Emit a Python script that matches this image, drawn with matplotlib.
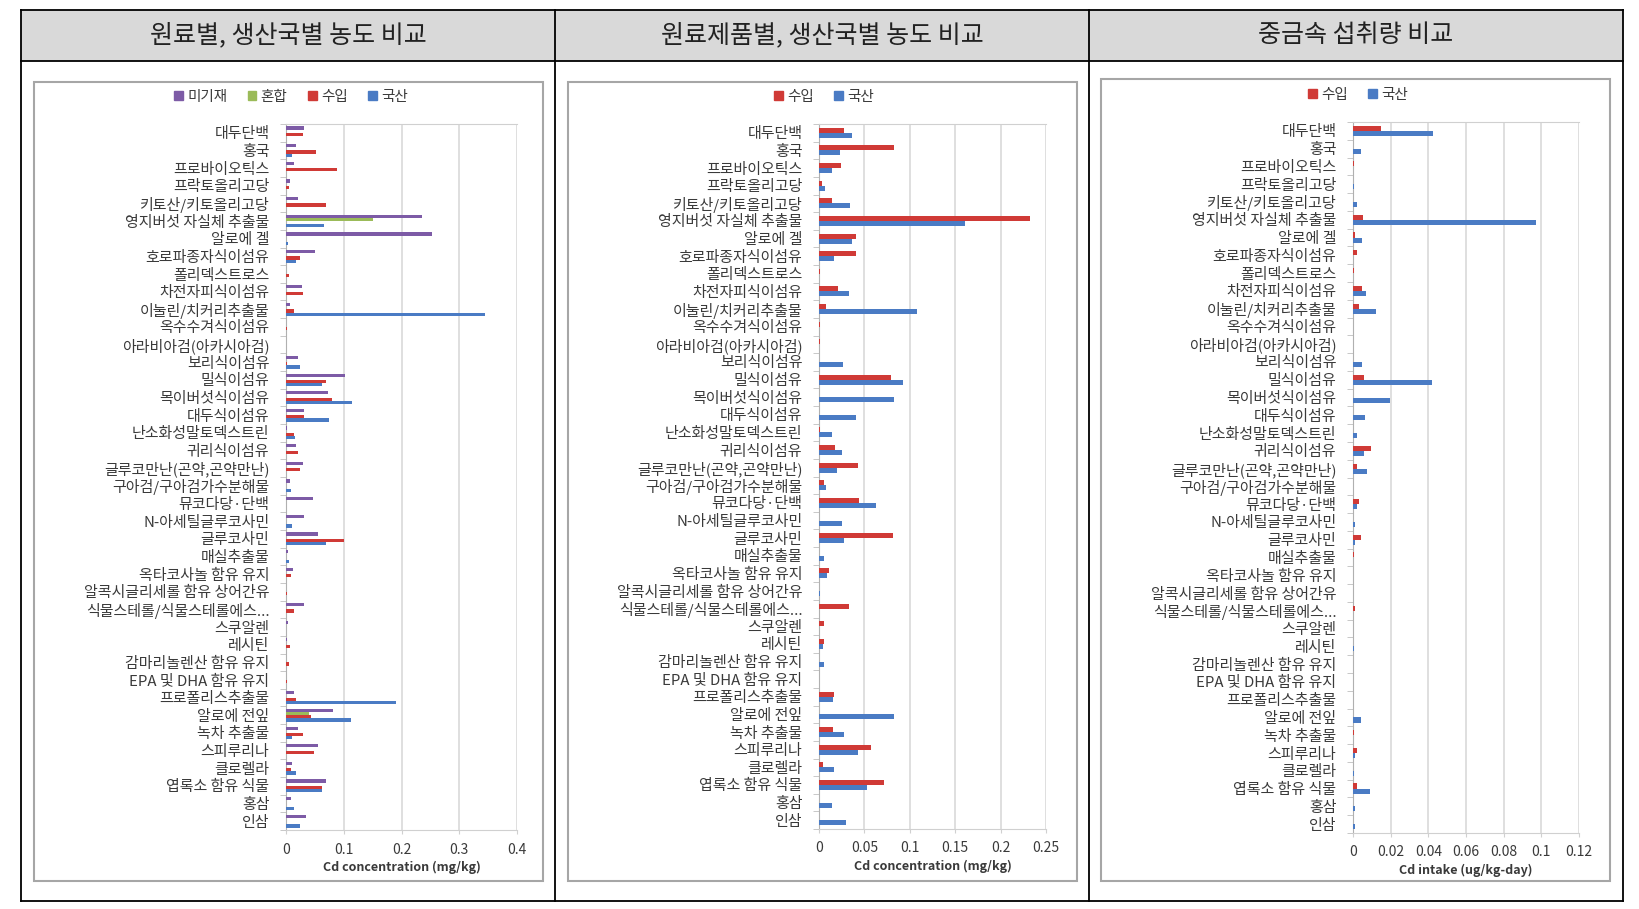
import numpy as np
import matplotlib
matplotlib.use("Agg")
import matplotlib.pyplot as plt
from matplotlib.patches import Rectangle, Patch
from matplotlib.lines import Line2D

plt.rcParams['font.family'] = ['Noto Sans CJK KR', 'DejaVu Sans']

categories = [
    "대두단백", "홍국", "프로바이오틱스", "프락토올리고당", "키토산/키토올리고당",
    "영지버섯 자실체 추출물", "알로에 겔", "호로파종자식이섬유", "폴리덱스트로스", "차전자피식이섬유",
    "이눌린/치커리추출물", "옥수수겨식이섬유", "아라비아검(아카시아검)", "보리식이섬유", "밀식이섬유",
    "목이버섯식이섬유", "대두식이섬유", "난소화성말토덱스트린", "귀리식이섬유", "글루코만난(곤약,곤약만난)",
    "구아검/구아검가수분해물", "뮤코다당·단백", "N-아세틸글루코사민", "글루코사민", "매실추출물",
    "옥타코사놀 함유 유지", "알콕시글리세롤 함유 상어간유", "식물스테롤/식물스테롤에스...", "스쿠알렌", "레시틴",
    "감마리놀렌산 함유 유지", "EPA 및 DHA 함유 유지", "프로폴리스추출물", "알로에 전잎", "녹차 추출물",
    "스피루리나", "클로렐라", "엽록소 함유 식물", "홍삼", "인삼",
]

titles = ["원료별, 생산국별 농도 비교", "원료제품별, 생산국별 농도 비교", "중금속 섭취량 비교"]

# panel 1: raw material Cd concentration (mg/kg)
raw_none = [0.031, 0.018, 0.014, 0.007, 0.021, 0.235, 0.252, 0.051, 0, 0.027,
            0.007, 0, 0, 0.021, 0.102, 0.073, 0.031, 0.002, 0.018, 0.030,
            0.007, 0.047, 0.032, 0.056, 0.003, 0.012, 0, 0.031, 0.003, 0.002,
            0, 0, 0.014, 0.081, 0.020, 0.055, 0.010, 0.069, 0.008, 0.035]
raw_mix = [0, 0, 0, 0, 0, 0.151, 0, 0, 0, 0,
           0, 0, 0, 0, 0, 0, 0, 0, 0, 0,
           0, 0, 0, 0, 0, 0, 0, 0, 0, 0,
           0, 0, 0, 0.040, 0, 0, 0, 0, 0, 0]
raw_imp = [0.029, 0.052, 0.088, 0.005, 0.069, 0, 0, 0.024, 0.005, 0.030,
           0.014, 0.001, 0, 0.002, 0.069, 0.079, 0.032, 0.014, 0.020, 0.025,
           0, 0, 0, 0.101, 0, 0.009, 0.001, 0.013, 0, 0.007,
           0.005, 0.001, 0.017, 0.044, 0.030, 0.049, 0.008, 0.062, 0, 0]
raw_dom = [0, 0.010, 0, 0, 0, 0.065, 0.003, 0.017, 0, 0,
           0.344, 0, 0, 0.025, 0.063, 0.114, 0.074, 0.016, 0, 0,
           0.008, 0, 0.010, 0.069, 0.006, 0, 0, 0, 0, 0,
           0, 0, 0.191, 0.112, 0.010, 0, 0.018, 0.062, 0.014, 0.025]

# panel 2: product Cd concentration (mg/kg)
prod_imp = [0.027, 0.083, 0.024, 0.003, 0.014, 0.232, 0.041, 0.041, 0.001, 0.021,
            0.008, 0.0015, 0.001, 0, 0.079, 0, 0, 0.001, 0.018, 0.043,
            0.006, 0.044, 0, 0.081, 0, 0.011, 0, 0.033, 0.006, 0.006,
            0, 0.0005, 0.017, 0, 0.015, 0.057, 0.004, 0.072, 0, 0]
prod_dom = [0.036, 0.023, 0.014, 0.007, 0.034, 0.161, 0.036, 0.017, 0, 0.033,
            0.108, 0, 0, 0.026, 0.092, 0.083, 0.041, 0.014, 0.025, 0.020,
            0.008, 0.063, 0.025, 0.028, 0.006, 0.009, 0.001, 0, 0, 0.004,
            0.006, 0, 0.015, 0.083, 0.028, 0.043, 0.016, 0.053, 0.014, 0.030]

# panel 3: Cd intake (ug/kg-day)
intake_imp = [0.015, 0, 0.0003, 0, 0, 0.0053, 0.001, 0.002, 0.0005, 0.005,
              0.003, 0, 0, 0, 0.006, 0, 0, 0, 0.0094, 0.002,
              0, 0.003, 0, 0.004, 0.0003, 0, 0, 0.001, 0, 0,
              0, 0, 0, 0, 0.0005, 0.0023, 0, 0.002, 0, 0]
intake_dom = [0.0425, 0.004, 0, 0.0003, 0.002, 0.097, 0.005, 0, 0, 0.007,
              0.012, 0, 0, 0.005, 0.042, 0.0195, 0.0065, 0.002, 0.006, 0.0076,
              0, 0.0023, 0.001, 0.001, 0, 0, 0, 0, 0, 0.0005,
              0, 0, 0, 0.004, 0, 0.0012, 0.0007, 0.009, 0.001, 0.001]

PURPLE, GREEN, RED, BLUE = '#7D5BA6', '#9BBB59', '#D03A36', '#4A7BC4'
W, H = 1639, 909
TXT = '#3A3A3A'

fig = plt.figure(figsize=(W / 100, H / 100), dpi=100)


def fx(x):
    return x / W


def fy(y):
    return 1 - y / H


# table frame
fig.patches.append(Rectangle((fx(21), fy(61)), fx(1623 - 21), (61 - 10) / H,
                             transform=fig.transFigure, facecolor='#D9D9D9', edgecolor='none', zorder=-3))
for y in (10, 61, 901):
    fig.add_artist(Line2D([fx(21), fx(1623)], [fy(y), fy(y)], color='black', lw=1.3))
for x in (21, 555, 1089, 1623):
    fig.add_artist(Line2D([fx(x), fx(x)], [fy(10), fy(901)], color='black', lw=1.3))
for t, cx in zip(titles, (288, 822, 1356)):
    fig.text(fx(cx), fy(35), t, ha='center', va='center', fontsize=18, color='#222222')

# chart boxes
boxes = [(34, 82, 543, 881), (568, 82, 1077, 881), (1101, 79, 1610, 881)]
for x0, y0, x1, y1 in boxes:
    fig.patches.append(Rectangle((fx(x0), fy(y1)), fx(x1 - x0), (y1 - y0) / H,
                                 transform=fig.transFigure, facecolor='white',
                                 edgecolor='#A6A6A6', lw=1.5, zorder=-2))


def draw_panel(rect, series, names, colors, xmax, step, xlabel, leg_xy, fmt):
    l, t, r, b = rect
    ax = fig.add_axes([fx(l), fy(b), fx(r - l), (b - t) / H])
    ax.patch.set_alpha(0)
    n = len(series)
    h = 1 / (n + 1.5)
    y = np.arange(len(categories))
    for k, (vals, c) in enumerate(zip(series, colors)):
        ax.barh(y + (k - (n - 1) / 2) * h, vals, height=h, color=c, zorder=3)
    ax.set_ylim(len(categories) - 0.5, -0.5)
    ax.set_xlim(0, xmax)
    ticks = np.arange(0, xmax + step / 2, step)
    ax.set_xticks(ticks)
    ax.set_xticklabels([fmt(v) for v in ticks], fontsize=10, color=TXT)
    ax.set_yticks(y)
    ax.set_yticklabels(categories, fontsize=10.8, color=TXT)
    ax.set_yticks(np.arange(-0.5, len(categories)), minor=True)
    ax.tick_params(axis='y', which='major', length=0, pad=12)
    ax.tick_params(axis='y', which='minor', length=4, color='#BFBFBF', direction='out')
    ax.tick_params(axis='x', length=3, color='#D0D0D0', pad=6)
    ax.grid(axis='x', color='#D9D9D9', lw=1.2, zorder=0)
    for s in ('left', 'bottom', 'top'):
        ax.spines[s].set_color('#D0D0D0')
    ax.spines['left'].set_color('#B0B0B0')
    ax.spines['right'].set_visible(False)
    ax.set_xlabel(xlabel, fontsize=9, fontweight='bold', color=TXT, labelpad=3)
    handles = [Patch(color=c, label=nm) for nm, c in zip(names, colors)]
    fig.legend(handles=handles, loc='center', bbox_to_anchor=(fx(leg_xy[0]), fy(leg_xy[1])),
               ncol=n, frameon=False, fontsize=10.5, labelcolor=TXT,
               handlelength=0.6, handleheight=0.6, handletextpad=0.3, columnspacing=1.4)
    return ax


def f1(v):
    s = f"{v:.2f}".rstrip('0').rstrip('.')
    return s


draw_panel((286, 124, 517, 830), [raw_none, raw_mix, raw_imp, raw_dom],
           ["미기재", "혼합", "수입", "국산"], [PURPLE, GREEN, RED, BLUE],
           0.4, 0.1, "Cd concentration (mg/kg)", (291, 97), f1)
draw_panel((819, 124, 1046, 829), [prod_imp, prod_dom], ["수입", "국산"], [RED, BLUE],
           0.25, 0.05, "Cd concentration (mg/kg)", (824, 97), f1)
draw_panel((1353, 122, 1579, 833), [intake_imp, intake_dom], ["수입", "국산"], [RED, BLUE],
           0.12, 0.02, "Cd intake (ug/kg-day)", (1358, 95), f1)

fig.savefig("out.png", dpi=100)
